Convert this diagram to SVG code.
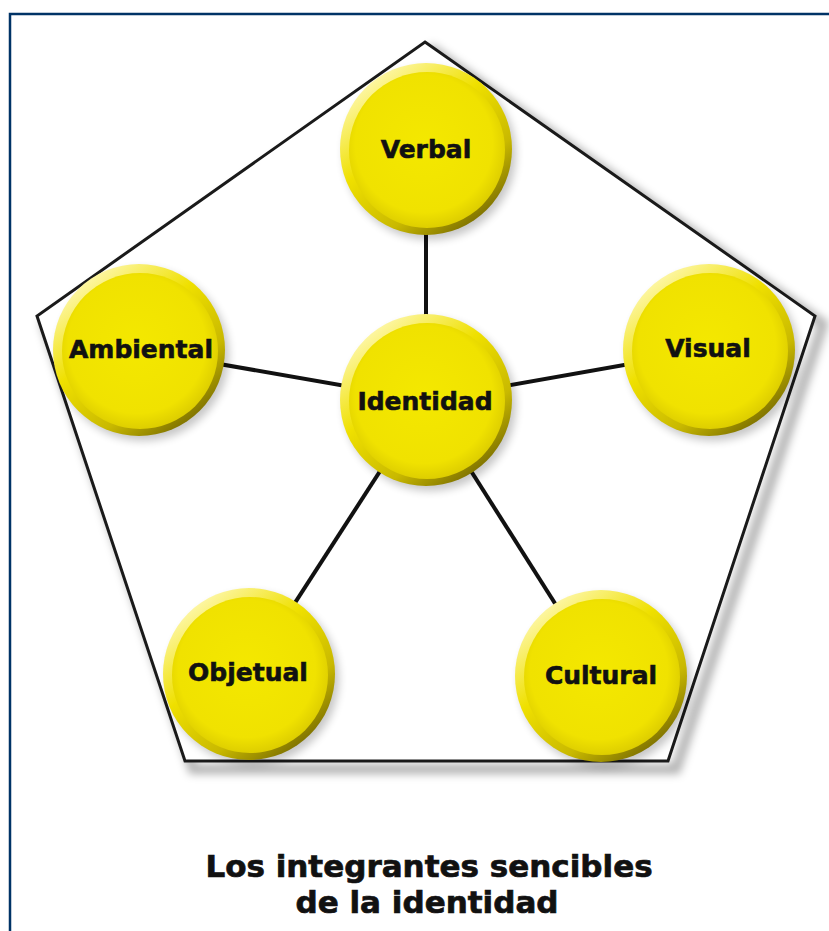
<svg xmlns="http://www.w3.org/2000/svg" width="829" height="931" viewBox="0 0 829 931">
  <style>
    .lbl { font-family: "DejaVu Sans", Verdana, sans-serif; font-weight: bold; font-size: 25px; fill: #111; stroke: #111; stroke-width: 0.6; text-anchor: middle; }
    .title { font-family: "DejaVu Sans", Verdana, sans-serif; font-weight: bold; font-size: 31px; fill: #111; stroke: #111; stroke-width: 0.7; text-anchor: middle; }
    .link { stroke: #111; stroke-width: 4; }
    .rim { fill: url(#rimGrad); }
    .face { fill: url(#faceGrad); }
    .shade { fill: #000; opacity: 0.22; filter: url(#soft); }
  </style>
  <defs>
    <filter id="soft" x="-20%" y="-20%" width="140%" height="140%">
      <feGaussianBlur stdDeviation="4"/>
    </filter>
    <linearGradient id="rimGrad" x1="0.2" y1="0.1" x2="0.85" y2="0.95">
      <stop offset="0" stop-color="#fdf6a0"/>
      <stop offset="0.35" stop-color="#efe000"/>
      <stop offset="0.7" stop-color="#c9b900"/>
      <stop offset="1" stop-color="#6f6300"/>
    </linearGradient>
    <radialGradient id="faceGrad" cx="0.48" cy="0.46" r="0.55">
      <stop offset="0" stop-color="#f4e800"/>
      <stop offset="0.8" stop-color="#f0e200"/>
      <stop offset="1" stop-color="#dccc00"/>
    </radialGradient>
    <g id="ball">
      <circle class="shade" cx="4" cy="5" r="86"/>
      <circle class="rim" cx="0" cy="0" r="86"/>
      <circle class="face" cx="1" cy="1" r="78"/>
    </g>
  </defs>

  <rect width="829" height="931" fill="#ffffff"/>
  <!-- frame: top and left edges -->
  <path d="M10,931 V14 H829" fill="none" stroke="#003366" stroke-width="2.5"/>

  <!-- pentagon with drop shadow -->
  <polygon points="433,50 823,324 676,769 193,769 45,324" fill="none" stroke="#000" stroke-opacity="0.3" stroke-width="10" filter="url(#soft)"/>
  <polygon points="425,42 815,316 668,761 185,761 37,316" fill="#ffffff" stroke="#1a1a1a" stroke-width="3"/>

  <g id="connectors">
    <line class="link" x1="426" y1="400" x2="426" y2="150"/>
    <line class="link" x1="426" y1="400" x2="139" y2="350"/>
    <line class="link" x1="426" y1="400" x2="709" y2="350"/>
    <line class="link" x1="426" y1="400" x2="249" y2="674"/>
    <line class="link" x1="426" y1="400" x2="601" y2="676"/>
  </g>

  <g id="node-verbal">
    <use href="#ball" x="426" y="149"/>
    <text class="lbl" x="426" y="158">Verbal</text>
  </g>
  <g id="node-ambiental">
    <use href="#ball" x="139" y="350"/>
    <text class="lbl" x="141" y="358">Ambiental</text>
  </g>
  <g id="node-visual">
    <use href="#ball" x="709" y="350"/>
    <text class="lbl" x="708" y="357">Visual</text>
  </g>
  <g id="node-objetual">
    <use href="#ball" x="249" y="674"/>
    <text class="lbl" x="248" y="681">Objetual</text>
  </g>
  <g id="node-cultural">
    <use href="#ball" x="601" y="676"/>
    <text class="lbl" x="601" y="684">Cultural</text>
  </g>
  <g id="node-identidad">
    <use href="#ball" x="426" y="400"/>
    <text class="lbl" x="425" y="410">Identidad</text>
  </g>

  <g id="caption">
    <text class="title" x="429" y="877">Los integrantes sencibles</text>
    <text class="title" x="427" y="913">de la identidad</text>
  </g>
</svg>
